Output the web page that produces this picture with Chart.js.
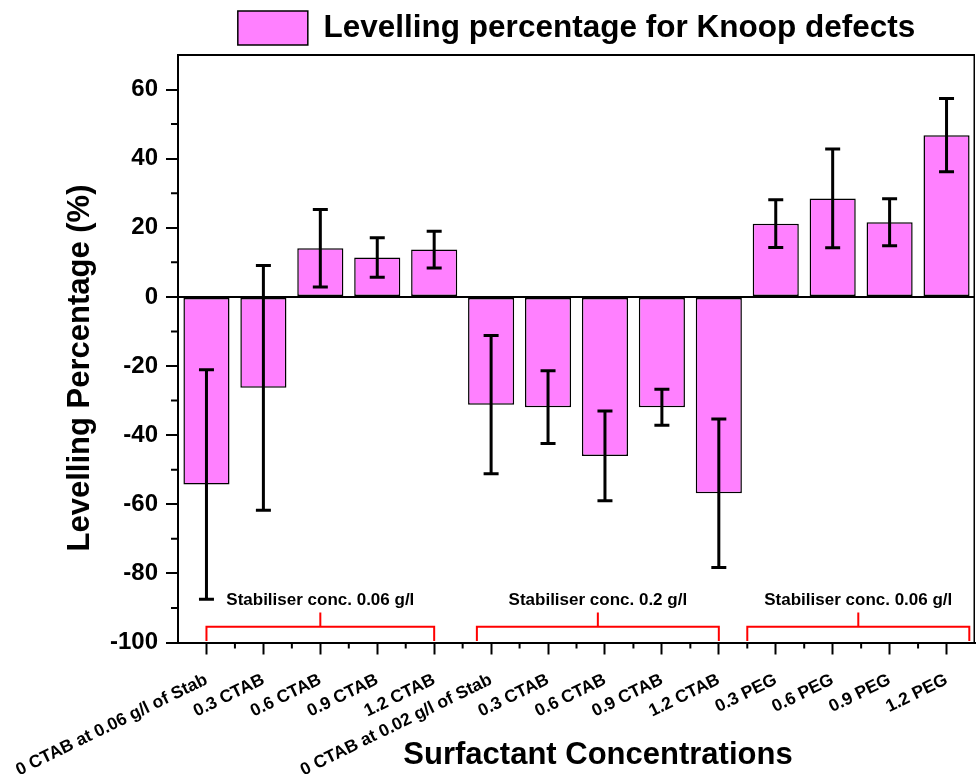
<!DOCTYPE html>
<html>
<head>
<meta charset="utf-8">
<title>Levelling percentage</title>
<script src="https://cdn.jsdelivr.net/npm/chart.js@4.4.1/dist/chart.umd.min.js"></script>
<style>
  html, body { margin: 0; padding: 0; background: #fff; }
  #wrap { width: 976px; height: 774px; }
</style>
</head>
<body>
<div id="wrap"><canvas id="chart"></canvas></div>
<script>
// data
const categories = [
  '0 CTAB at 0.06 g/l of Stab', '0.3 CTAB', '0.6 CTAB', '0.9 CTAB', '1.2 CTAB',
  '0 CTAB at 0.02 g/l of Stab', '0.3 CTAB', '0.6 CTAB', '0.9 CTAB', '1.2 CTAB',
  '0.3 PEG', '0.6 PEG', '0.9 PEG', '1.2 PEG'
]
const levelling = [-54.3, -26.3, 14.1, 11.4, 13.7, -31.2, -31.9, -46.0, -31.9, -56.8, 21.2, 28.5, 21.6, 46.8]
const errors = [33.2, 35.4, 11.2, 5.7, 5.3, 20.0, 10.5, 13.0, 5.2, 21.5, 6.9, 14.3, 6.8, 10.6]

const yMin = -100
const yMax = 70
const yStep = 20

// stabiliser groups (category index span)
const groupLabels = ['Stabiliser conc. 0.06 g/l', 'Stabiliser conc. 0.2 g/l', 'Stabiliser conc. 0.06 g/l']
const groupFrom = [0, 4.75, 9.5]
const groupTo = [4, 9, 13.4]

const FONT = 'Arial, "Liberation Sans", sans-serif'
Chart.defaults.font.family = FONT
Chart.defaults.color = '#000'

/* error bars, brackets, frame, minor ticks, axis titles */
const extras = {
  id: 'extras',
  afterDatasetsDraw(chart) {
    const { ctx, scales: { x, y } } = chart
    ctx.save()
    ctx.strokeStyle = '#000'
    ctx.lineWidth = 3
    levelling.forEach((v, i) => {
      const px = x.getPixelForValue(i)
      const hi = y.getPixelForValue(v + errors[i])
      const lo = y.getPixelForValue(v - errors[i])
      ctx.beginPath()
      ctx.moveTo(px, hi); ctx.lineTo(px, lo)
      ctx.moveTo(px - 7.5, hi); ctx.lineTo(px + 7.5, hi)
      ctx.moveTo(px - 7.5, lo); ctx.lineTo(px + 7.5, lo)
      ctx.stroke()
    })
    ctx.restore()
  },
  afterDraw(chart) {
    const { ctx, chartArea: a, scales: { x, y } } = chart
    ctx.save()

    // frame top + right
    ctx.strokeStyle = '#000'
    ctx.lineWidth = 2
    ctx.beginPath()
    ctx.moveTo(a.left, a.top); ctx.lineTo(a.right, a.top)
    ctx.stroke()
    ctx.lineWidth = 1.5
    ctx.beginPath()
    ctx.moveTo(a.right - 0.75, a.top); ctx.lineTo(a.right - 0.75, a.bottom)
    ctx.stroke()

    // minor ticks
    ctx.lineWidth = 2
    ctx.beginPath()
    for (let v = yMin + yStep / 2; v < yMax; v += yStep) {
      const py = y.getPixelForValue(v)
      ctx.moveTo(a.left - 7, py); ctx.lineTo(a.left, py)
    }
    for (let i = 0; i < categories.length - 1; i++) {
      const px = x.getPixelForValue(i + 0.5)
      ctx.moveTo(px, a.bottom); ctx.lineTo(px, a.bottom + 6)
    }
    ctx.stroke()

    // red brackets
    ctx.strokeStyle = '#ff0000'
    ctx.lineWidth = 2
    ctx.fillStyle = '#000'
    ctx.font = 'bold 17px ' + FONT
    ctx.textAlign = 'center'
    ctx.textBaseline = 'middle'
    const yb = y.getPixelForValue(-95.45)
    const yEnd = y.getPixelForValue(-99.6)
    const yTip = y.getPixelForValue(-91.3)
    const yTxt = y.getPixelForValue(-87.7)
    groupLabels.forEach((lab, g) => {
      const xs = x.getPixelForValue(groupFrom[g])
      const xe = x.getPixelForValue(groupTo[g])
      const xm = x.getPixelForValue((groupFrom[g] + groupTo[g]) / 2)
      ctx.beginPath()
      ctx.moveTo(xs, yEnd); ctx.lineTo(xs, yb); ctx.lineTo(xe, yb); ctx.lineTo(xe, yEnd)
      ctx.moveTo(xm, yb); ctx.lineTo(xm, yTip)
      ctx.stroke()
      ctx.fillText(lab, xm, yTxt)
    })

    // axis titles
    ctx.font = 'bold 31px ' + FONT
    ctx.fillText('Surfactant Concentrations', 598, 755)
    ctx.translate(80, 368)
    ctx.rotate(-Math.PI / 2)
    ctx.fillText('Levelling Percentage (%)', 0, 0)
    ctx.restore()
  }
}

const ctx = document.getElementById('chart')

new Chart(ctx, {
  type: 'bar',
  data: {
    labels: categories,
    datasets: [{
      label: 'Levelling percentage for Knoop defects',
      data: levelling,
      backgroundColor: '#ff80ff',
      borderColor: '#000',
      borderWidth: 1.5,
      borderSkipped: false,
      barPercentage: 0.81,
      categoryPercentage: 1
    }]
  },
  options: {
    responsive: true,
    maintainAspectRatio: false,
    animation: false,
    layout: { padding: { top: 1, right: 1, left: 0, bottom: 0 } },
    plugins: {
      tooltip: { enabled: false },
      legend: {
        fullSize: false,
        labels: {
          boxWidth: 70,
          boxHeight: 34,
          padding: 10,
          color: '#000',
          font: { size: 31.5, weight: 'bold' }
        }
      }
    },
    scales: {
      x: {
        grid: { drawOnChartArea: false, offset: false, tickLength: 12, tickColor: '#000', tickWidth: 2 },
        border: { color: '#000', width: 2 },
        ticks: {
          autoSkip: false,
          minRotation: 26,
          maxRotation: 26,
          padding: 15,
          color: '#000',
          font: { size: 17.5, weight: 'bold' }
        },
        afterFit(s) {
          s.height = 131.5
          s.paddingLeft = 0
          s.paddingRight = 0
        }
      },
      y: {
        min: yMin,
        max: yMax,
        grid: {
          color: c => (c.tick && c.tick.value === 0) ? '#000' : 'rgba(0,0,0,0)',
          lineWidth: 2,
          tickLength: 12,
          tickColor: '#000',
          tickWidth: 2
        },
        border: { color: '#000', width: 2 },
        ticks: {
          stepSize: yStep,
          includeBounds: false,
          padding: 8,
          color: '#000',
          font: { size: 24, weight: 'bold' }
        },
        afterFit(s) { s.width = 178 }
      }
    }
  },
  plugins: [extras]
})
</script>
</body>
</html>
